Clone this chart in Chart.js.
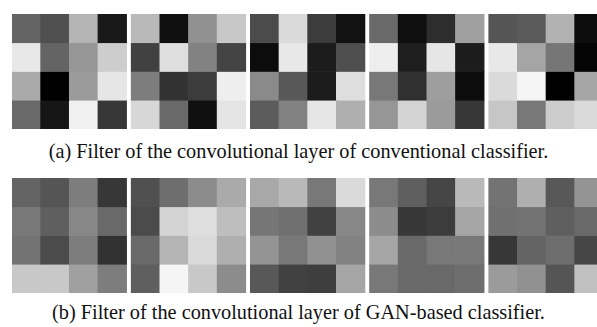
<!DOCTYPE html>
<html>
<head>
<meta charset="utf-8">
<script src="https://cdn.jsdelivr.net/npm/chart.js@4.4.0/dist/chart.umd.min.js"></script>
<style>
  html, body { margin: 0; padding: 0; background: #fff; }
  body { width: 597px; height: 327px; position: relative; overflow: hidden; }
  .grid { position: absolute; left: 12px; width: 585px; height: 115px; }
  .grid canvas { display: block; }
  .caption {
    position: absolute; left: 0; width: 597px; text-align: center;
    font-family: "Liberation Serif", "Times New Roman", serif;
    font-size: 20.3px; color: #111; white-space: nowrap;
  }
</style>
</head>
<body>
<div class="grid" style="top:14px"><canvas id="convChart" width="585" height="115"></canvas></div>
<div class="caption" id="captionA" style="top:140px"></div>
<div class="grid" style="top:178px"><canvas id="ganChart" width="585" height="115"></canvas></div>
<div class="caption" id="captionB" style="top:300.5px"></div>

<script>
// 4x4 kernel weights shown as gray levels (0 = black, 255 = white), one grid per filter, rows top to bottom.
const conventionalFilters = [
  [[100,  80, 180,  25], [232, 100, 150, 205], [170,   0, 155, 230], [105,  22, 240,  55]],
  [[185,  15, 145, 200], [ 65, 222, 130,  68], [125,  50,  60, 238], [215, 105,  15, 228]],
  [[ 75, 218,  60,  18], [ 12, 232,  28,  78], [138,  88,  28, 222], [ 92, 130, 230, 175]],
  [[105,  15,  45, 160], [238,  30, 230,  28], [120,  48, 158,  12], [150, 212, 155,  55]],
  [[ 85,  90, 178,  12], [232, 165, 118,   5], [218, 245,   0, 165], [198, 120, 205, 218]]
];

const ganFilters = [
  [[100,  85, 125,  55], [120,  95, 135, 105], [115,  75, 125,  50], [200, 200, 160, 125]],
  [[ 80, 110, 140, 170], [ 75, 212, 222, 190], [105, 180, 218, 175], [ 95, 245, 200, 140]],
  [[168, 185, 120, 218], [118, 112,  65, 135], [148, 120, 145, 130], [ 88,  65,  62, 165]],
  [[120,  95,  70, 185], [140,  55,  60, 165], [165, 105, 120, 120], [120, 105, 105, 110]],
  [[115, 175,  88, 148], [112, 115,  95, 105], [ 55, 100, 110,  70], [155, 145,  85, 192]]
];

const captionA = '(a) Filter of the convolutional layer of conventional classifier.';
const captionB = '(b) Filter of the convolutional layer of GAN-based classifier.';

const KERNEL = 4;          // cells per side
const FILTER_GAP = 0.16;   // spacing between neighbouring filters, in cell units
const X_RANGE = [0, 20.42];

function gray(v) { return 'rgb(' + v + ',' + v + ',' + v + ')'; }

// One floating-bar dataset per kernel row; each bar is one cell.
function buildDatasets(filters) {
  const datasets = [];
  for (let r = 0; r < KERNEL; r++) {
    const data = [];
    const colors = [];
    filters.forEach((kernel, f) => {
      for (let c = 0; c < KERNEL; c++) {
        data.push({ x: f * (KERNEL + FILTER_GAP) + c + 0.5, y: [r, r + 1] });
        colors.push(gray(kernel[r][c]));
      }
    });
    datasets.push({
      data: data,
      backgroundColor: colors,
      borderWidth: 0,
      grouped: false,
      categoryPercentage: 1,
      barPercentage: 1
    });
  }
  return datasets;
}

function drawFilters(id, filters) {
  return new Chart(document.getElementById(id), {
    type: 'bar',
    data: { datasets: buildDatasets(filters) },
    options: {
      responsive: false,
      animation: false,
      layout: { padding: 0 },
      plugins: { legend: { display: false }, tooltip: { enabled: false } },
      scales: {
        x: { type: 'linear', min: X_RANGE[0], max: X_RANGE[1], offset: false, display: false },
        y: { type: 'linear', min: 0, max: KERNEL, reverse: true, display: false }
      }
    }
  });
}

document.getElementById('captionA').textContent = captionA;
document.getElementById('captionB').textContent = captionB;
drawFilters('convChart', conventionalFilters);
drawFilters('ganChart', ganFilters);
</script>
</body>
</html>
